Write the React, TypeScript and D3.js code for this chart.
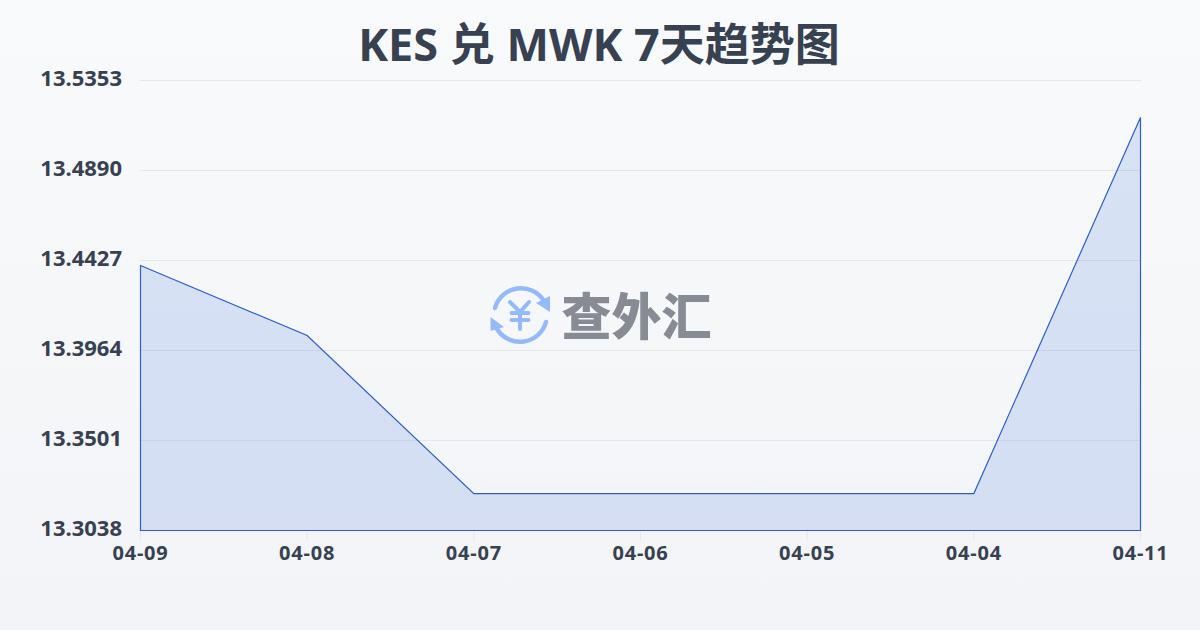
import React from "react";
import * as d3 from "d3";

const categories = ["04-09", "04-08", "04-07", "04-06", "04-05", "04-04", "04-11"];
const values = [13.4401, 13.4041, 13.3228, 13.3228, 13.3228, 13.3228, 13.5163];
const yTicks = [13.3038, 13.3501, 13.3964, 13.4427, 13.489, 13.5353];
const titleText = "KES 兑 MWK 7天趋势图";
const brand = "查外汇";

const FONT = '"Noto Sans", "Noto Sans CJK SC", sans-serif';

export default function App() {
  const x = d3.scalePoint<string>().domain(categories).range([140.5, 1140.5]);
  const y = d3.scaleLinear().domain([13.3038, 13.5353]).range([530.5, 80.5]);
  const area = d3
    .area<number>()
    .x((_, i) => x(categories[i]) as number)
    .y0(530.5)
    .y1((d) => y(d));
  const d = area(values) as string;
  return (
    <svg
      width={1200}
      height={630}
      viewBox="0 0 1200 630"
      style={{ position: "fixed", left: 0, top: 0, display: "block" }}
    >
      <defs>
        <linearGradient id="bg" x1="0" y1="0" x2="0" y2="1">
          <stop offset="0" stopColor="#f8fafc" />
          <stop offset="1" stopColor="#f3f4f7" />
        </linearGradient>
      </defs>
      <rect width={1200} height={630} fill="url(#bg)" />
      <text
        x={599}
        y={61}
        textAnchor="middle"
        fontFamily={FONT}
        fontWeight={700}
        fontSize={45}
        fill="#374151"
      >
        {titleText}
      </text>
      {yTicks.map((t) => (
        <g key={t}>
          <line x1={140} x2={1141} y1={y(t)} y2={y(t)} stroke="#e5e7eb" strokeWidth={1} />
          <text
            x={122}
            y={y(t) + 5.5}
            textAnchor="end"
            fontFamily={FONT}
            fontWeight={700}
            fontSize={22}
            fill="#374151"
          >
            {d3.format(".4f")(t)}
          </text>
        </g>
      ))}
      {categories.map((c) => (
        <g key={c}>
          <line x1={x(c)} x2={x(c)} y1={531} y2={541} stroke="#e5e7eb" strokeWidth={1} />
          <text
            x={x(c)}
            y={560}
            textAnchor="middle"
            fontFamily={FONT}
            fontWeight={700}
            fontSize={20}
            letterSpacing={0.8}
            fill="#374151"
          >
            {c}
          </text>
        </g>
      ))}
      <path d={d} fill="#3a6bd8" fillOpacity={0.16} stroke="none" />
      <path d={d} fill="none" stroke="#2c5fc9" strokeWidth={1.2} />
      <g fill="none" stroke="#93bbfb" strokeWidth={4.5} strokeLinecap="round">
        <path d="M495 308 A27 27 0 0 1 544 301" />
        <path d="M546 322 A27 27 0 0 1 497 329" />
        <path d="M510 302 L520 312 L529 302 M511.5 313 H528.5 M511.5 320 H528.5 M520 312 V329" strokeWidth={4} />
      </g>
      <g fill="#93bbfb">
        <path d="M550 296 V312 L536 303 Z" />
        <path d="M490.5 317 V331 L504 327 Z" />
      </g>
      <text
        x={636.5}
        y={335}
        textAnchor="middle"
        fontFamily='"Noto Sans CJK SC", sans-serif'
        fontWeight={900}
        fontSize={50}
        fill="#868b94"
      >
        {brand}
      </text>
    </svg>
  );
}
